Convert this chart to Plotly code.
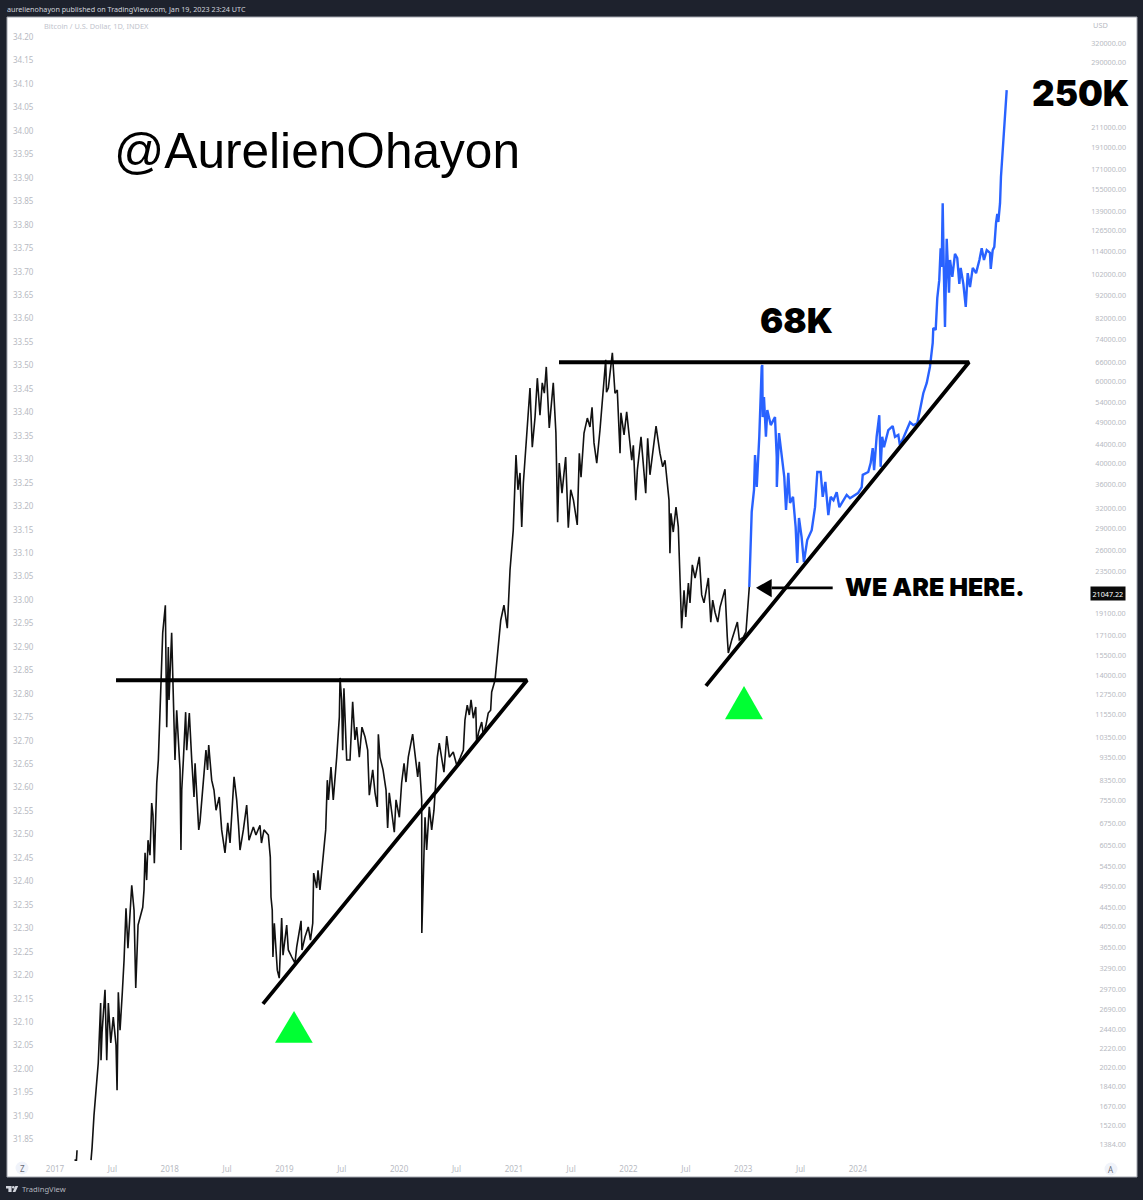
"""Bitcoin log chart with two ascending triangles, redrawn from a TradingView snapshot."""
import math

import plotly.graph_objects as go

# first few daily bars, separated from the rest by a gap in the feed
start_t = [2017.170, 2017.187, 2017.192]
start_v = [31.806, 31.806, 31.827]

# printed price, read against the left (log) scale, t in decimal years
black_t = [
    2017.314, 2017.323, 2017.340, 2017.357, 2017.366, 2017.377, 2017.398, 2017.401, 2017.410, 2017.436,
    2017.451, 2017.465, 2017.486, 2017.508, 2017.532, 2017.541, 2017.552, 2017.567, 2017.587, 2017.602,
    2017.619, 2017.636, 2017.669, 2017.689, 2017.704, 2017.724, 2017.765, 2017.776, 2017.785, 2017.799,
    2017.811, 2017.828, 2017.843, 2017.854, 2017.866, 2017.887, 2017.901, 2017.915, 2017.939, 2017.962,
    2017.974, 2017.988, 2017.994, 2018.017, 2018.031, 2018.046, 2018.061, 2018.072, 2018.090, 2018.098,
    2018.105, 2018.119, 2018.139, 2018.148, 2018.171, 2018.192, 2018.212, 2018.221, 2018.241, 2018.253,
    2018.264, 2018.293, 2018.316, 2018.330, 2018.340, 2018.366, 2018.386, 2018.404, 2018.432, 2018.453,
    2018.482, 2018.506, 2018.526, 2018.561, 2018.584, 2018.600, 2018.613, 2018.642, 2018.671, 2018.691,
    2018.729, 2018.752, 2018.787, 2018.800, 2018.822, 2018.860, 2018.877, 2018.883, 2018.894, 2018.900,
    2018.912, 2018.938, 2018.955, 2018.976, 2018.988, 2019.020, 2019.034, 2019.064, 2019.092, 2019.107,
    2019.145, 2019.153, 2019.180, 2019.208, 2019.227, 2019.247, 2019.255, 2019.281, 2019.293, 2019.310,
    2019.339, 2019.360, 2019.374, 2019.384, 2019.406, 2019.426, 2019.456, 2019.479, 2019.485, 2019.499,
    2019.508, 2019.519, 2019.543, 2019.572, 2019.595, 2019.615, 2019.630, 2019.653, 2019.676, 2019.703,
    2019.726, 2019.740, 2019.770, 2019.790, 2019.810, 2019.819, 2019.833, 2019.860, 2019.886, 2019.900,
    2019.914, 2019.935, 2019.958, 2019.973, 2020.002, 2020.022, 2020.043, 2020.060, 2020.080, 2020.118,
    2020.138, 2020.162, 2020.176, 2020.197, 2020.198, 2020.206, 2020.217, 2020.226, 2020.240, 2020.263,
    2020.284, 2020.304, 2020.322, 2020.333, 2020.350, 2020.391, 2020.415, 2020.438, 2020.472, 2020.502,
    2020.531, 2020.560, 2020.574, 2020.594, 2020.612, 2020.627, 2020.647, 2020.668, 2020.676, 2020.694,
    2020.720, 2020.734, 2020.757, 2020.777, 2020.798, 2020.807, 2020.836, 2020.851, 2020.862, 2020.886,
    2020.914, 2020.943, 2020.967, 2020.995, 2021.019, 2021.036, 2021.054, 2021.069, 2021.083, 2021.103,
    2021.121, 2021.141, 2021.161, 2021.185, 2021.205, 2021.228, 2021.248, 2021.266, 2021.283, 2021.309,
    2021.344, 2021.367, 2021.382, 2021.396, 2021.420, 2021.452, 2021.475, 2021.496, 2021.520, 2021.553,
    2021.571, 2021.586, 2021.612, 2021.641, 2021.664, 2021.682, 2021.699, 2021.723, 2021.751, 2021.771,
    2021.801, 2021.808, 2021.824, 2021.859, 2021.882, 2021.902, 2021.926, 2021.934, 2021.961, 2021.984,
    2022.004, 2022.028, 2022.042, 2022.063, 2022.077, 2022.109, 2022.150, 2022.167, 2022.187, 2022.211,
    2022.240, 2022.274, 2022.298, 2022.318, 2022.333, 2022.353, 2022.361, 2022.370, 2022.390, 2022.414,
    2022.434, 2022.449, 2022.463, 2022.484, 2022.499, 2022.522, 2022.536, 2022.556, 2022.580, 2022.617,
    2022.638, 2022.658, 2022.696, 2022.717, 2022.734, 2022.754, 2022.778, 2022.798, 2022.827, 2022.841,
    2022.861, 2022.870, 2022.900, 2022.920, 2022.949, 2022.966, 2023.001, 2023.024, 2023.044, 2023.053,
]
black_v = [
    31.806, 31.832, 31.902, 31.955, 31.977, 32.013, 32.141, 32.019, 32.077, 32.169,
    32.019, 32.141, 32.056, 32.111, 32.051, 31.955, 32.164, 32.083, 32.164, 32.232,
    32.343, 32.258, 32.392, 32.339, 32.173, 32.307, 32.345, 32.382, 32.461, 32.403,
    32.488, 32.456, 32.567, 32.542, 32.439, 32.610, 32.659, 32.751, 32.930, 32.989,
    32.729, 32.900, 32.787, 32.930, 32.808, 32.659, 32.765, 32.716, 32.638, 32.467,
    32.595, 32.659, 32.761, 32.680, 32.759, 32.659, 32.580, 32.652, 32.559, 32.510,
    32.527, 32.616, 32.680, 32.638, 32.691, 32.616, 32.595, 32.552, 32.580, 32.510,
    32.461, 32.525, 32.482, 32.623, 32.574, 32.520, 32.467, 32.510, 32.563, 32.488,
    32.516, 32.499, 32.520, 32.482, 32.510, 32.499, 32.452, 32.367, 32.339, 32.239,
    32.311, 32.211, 32.194, 32.322, 32.243, 32.307, 32.254, 32.239, 32.226, 32.260,
    32.316, 32.254, 32.282, 32.303, 32.275, 32.311, 32.418, 32.386, 32.424, 32.382,
    32.461, 32.510, 32.616, 32.574, 32.644, 32.574, 32.665, 32.751, 32.834, 32.787,
    32.680, 32.812, 32.659, 32.659, 32.783, 32.702, 32.729, 32.665, 32.729, 32.708,
    32.680, 32.584, 32.638, 32.589, 32.559, 32.714, 32.665, 32.638, 32.595, 32.514,
    32.589, 32.552, 32.505, 32.574, 32.537, 32.610, 32.652, 32.612, 32.665, 32.714,
    32.674, 32.623, 32.655, 32.574, 32.290, 32.397, 32.461, 32.537, 32.467, 32.559,
    32.510, 32.552, 32.623, 32.665, 32.695, 32.633, 32.710, 32.665, 32.676, 32.648,
    32.663, 32.680, 32.744, 32.776, 32.755, 32.787, 32.748, 32.772, 32.695, 32.719,
    32.740, 32.712, 32.733, 32.759, 32.765, 32.804, 32.829, 32.866, 32.904, 32.957,
    32.989, 32.940, 33.064, 33.149, 33.309, 33.235, 33.271, 33.156, 33.249, 33.320,
    33.369, 33.452, 33.326, 33.390, 33.473, 33.394, 33.463, 33.441, 33.497, 33.367,
    33.463, 33.356, 33.166, 33.292, 33.228, 33.305, 33.154, 33.235, 33.213, 33.160,
    33.313, 33.262, 33.356, 33.388, 33.369, 33.411, 33.335, 33.292, 33.362, 33.426,
    33.512, 33.443, 33.452, 33.527, 33.441, 33.448, 33.313, 33.399, 33.352, 33.401,
    33.352, 33.298, 33.330, 33.213, 33.277, 33.348, 33.228, 33.345, 33.267, 33.313,
    33.371, 33.313, 33.284, 33.298, 33.267, 33.213, 33.100, 33.185, 33.145, 33.198,
    33.156, 33.064, 32.940, 33.021, 32.964, 33.036, 32.994, 33.075, 33.047, 33.092,
    33.011, 32.994, 33.047, 32.953, 33.000, 32.974, 32.953, 32.985, 33.015, 33.023,
    32.921, 32.887, 32.915, 32.930, 32.953, 32.915, 32.921, 32.932, 33.006, 33.028,
]

# the author's projected path
blue_t = [
    2023.053, 2023.068, 2023.074, 2023.094, 2023.103, 2023.118, 2023.140, 2023.161, 2023.166, 2023.170,
    2023.181, 2023.198, 2023.210, 2023.240, 2023.277, 2023.292, 2023.293, 2023.312, 2023.335, 2023.358,
    2023.373, 2023.393, 2023.408, 2023.434, 2023.457, 2023.471, 2023.486, 2023.509, 2023.529, 2023.558,
    2023.597, 2023.626, 2023.646, 2023.675, 2023.693, 2023.716, 2023.742, 2023.762, 2023.787, 2023.815,
    2023.838, 2023.873, 2023.902, 2023.931, 2023.975, 2024.001, 2024.033, 2024.042, 2024.090, 2024.111,
    2024.129, 2024.141, 2024.163, 2024.186, 2024.198, 2024.212, 2024.227, 2024.265, 2024.303, 2024.323,
    2024.352, 2024.366, 2024.395, 2024.425, 2024.454, 2024.483, 2024.517, 2024.541, 2024.570, 2024.600,
    2024.628, 2024.652, 2024.657, 2024.678, 2024.692, 2024.709, 2024.721, 2024.730, 2024.739, 2024.748,
    2024.759, 2024.774, 2024.785, 2024.794, 2024.803, 2024.823, 2024.846, 2024.866, 2024.884, 2024.896,
    2024.919, 2024.940, 2024.957, 2024.977, 2025.001, 2025.030, 2025.059, 2025.079, 2025.099, 2025.123,
    2025.151, 2025.158, 2025.175, 2025.189, 2025.204, 2025.215, 2025.224, 2025.239, 2025.247, 2025.262,
    2025.273, 2025.285, 2025.297,
]
blue_v = [
    33.028, 33.143, 33.188, 33.235, 33.309, 33.241, 33.348, 33.497, 33.501, 33.390,
    33.433, 33.348, 33.405, 33.373, 33.390, 33.305, 33.241, 33.356, 33.313, 33.262,
    33.192, 33.271, 33.207, 33.220, 33.156, 33.079, 33.175, 33.134, 33.081, 33.128,
    33.149, 33.198, 33.273, 33.273, 33.220, 33.252, 33.181, 33.220, 33.213, 33.230,
    33.198, 33.213, 33.224, 33.217, 33.224, 33.228, 33.241, 33.267, 33.273, 33.292,
    33.324, 33.277, 33.348, 33.394, 33.284, 33.348, 33.326, 33.362, 33.371, 33.348,
    33.352, 33.330, 33.345, 33.362, 33.379, 33.373, 33.377, 33.405, 33.441, 33.463,
    33.497, 33.548, 33.580, 33.576, 33.644, 33.682, 33.750, 33.710, 33.846, 33.714,
    33.582, 33.770, 33.693, 33.655, 33.725, 33.689, 33.738, 33.729, 33.674, 33.708,
    33.674, 33.625, 33.697, 33.667, 33.708, 33.697, 33.725, 33.750, 33.725, 33.746,
    33.740, 33.706, 33.746, 33.753, 33.804, 33.823, 33.806, 33.846, 33.902, 33.959,
    34.013, 34.038, 34.087,
]

# hand-drawn triangles: top, then rising trend line
left_tri_t = [2017.532, 2021.115, 2018.813]
left_tri_v = [32.829, 32.829, 32.139]
right_tri_t = [2021.394, 2024.968, 2022.675]
right_tri_v = [33.507, 33.507, 32.817]

# green markers under each triangle
mark_left_t = [2018.918, 2019.084, 2019.247, 2018.918]
mark_left_v = [32.056, 32.124, 32.056, 32.056]
mark_right_t = [2022.841, 2023.007, 2023.172, 2022.841]
mark_right_v = [32.746, 32.817, 32.746, 32.746]

# "we are here" arrow
arrow_shaft_t = [2023.248, 2023.780]
arrow_shaft_v = [33.026, 33.026]
arrow_head_t = [2023.111, 2023.248, 2023.248, 2023.111]
arrow_head_v = [33.026, 33.045, 33.006, 33.026]

last_t = [2026.40]
last_price = [21047.22]

year_ticks = [2017, 2017.5, 2018, 2018.5, 2019, 2019.5, 2020, 2020.5, 2021, 2021.5, 2022, 2022.5, 2023, 2023.5, 2024]
year_labels = ["2017", "Jul", "2018", "Jul", "2019", "Jul", "2020", "Jul", "2021", "Jul", "2022", "Jul", "2023", "Jul", "2024"]
left_ticks = [
    34.20, 34.15, 34.10, 34.05, 34.00, 33.95, 33.90, 33.85, 33.80, 33.75, 33.70, 33.65, 33.60, 33.55, 33.50, 33.45,
    33.40, 33.35, 33.30, 33.25, 33.20, 33.15, 33.10, 33.05, 33.00, 32.95, 32.90, 32.85, 32.80, 32.75, 32.70, 32.65,
    32.60, 32.55, 32.50, 32.45, 32.40, 32.35, 32.30, 32.25, 32.20, 32.15, 32.10, 32.05, 32.00, 31.95, 31.90, 31.85,
]
price_ticks = [
    320000, 290000, 211000, 191000, 171000, 155000, 139000, 126500, 114000, 102000, 92000, 82000, 74000, 66000,
    60000, 54000, 49000, 44000, 40000, 36000, 32000, 29000, 26000, 23500, 17100, 15500, 14000, 12750,
    11550, 10350, 9350, 8350, 7550, 6750, 6050, 5450, 4950, 4450, 4050, 3650, 3290, 2970, 2690, 2440, 2220,
    2020, 1840, 1670, 1520, 1384,
]
# this one does not survive as a tick label on the inside of the axis, so it goes in as a note
price_tick_extra = 19100

WIDTH, HEIGHT = 1143, 1200
M_L, M_R, M_T, M_B = 7, 6, 17, 23
DARK = "#1e222d"
AXIS_TEXT = "#b7bac2"
BLUE = "#2962ff"
GREEN = "#00ff33"
TICK_FONT = "Noto Sans"
HEAVY_FONT = "Inter"


def _px(x, y):
    """Window pixels to paper fractions, for the furniture around the chart."""
    return (x - M_L) / (WIDTH - M_L - M_R), (HEIGHT - M_B - y) / (HEIGHT - M_T - M_B)


def _note(fig, text, x, y, size, color, family=TICK_FONT, weight="normal", anchor="left"):
    px, py = _px(x, y)
    fig.add_annotation(
        x=px, y=py, xref="paper", yref="paper", text=text, showarrow=False,
        xanchor=anchor, yanchor="middle", borderpad=0,
        font=dict(family=family, size=size, color=color, weight=weight),
    )


fig = go.Figure()

fig.add_trace(go.Scatter(x=start_t, y=start_v, mode="lines", line=dict(color="#111111", width=1.6)))
fig.add_trace(go.Scatter(x=black_t, y=black_v, mode="lines", line=dict(color="#111111", width=1.6)))
fig.add_trace(go.Scatter(x=blue_t, y=blue_v, mode="lines", line=dict(color=BLUE, width=2.4)))

for tx, ty in ((left_tri_t, left_tri_v), (right_tri_t, right_tri_v)):
    fig.add_trace(go.Scatter(x=tx, y=ty, mode="lines", line=dict(color="black", width=3.8)))
for tx, ty in ((mark_left_t, mark_left_v), (mark_right_t, mark_right_v)):
    fig.add_trace(go.Scatter(x=tx, y=ty, mode="lines", fill="toself", fillcolor=GREEN, line=dict(color=GREEN, width=0)))

fig.add_trace(go.Scatter(x=arrow_shaft_t, y=arrow_shaft_v, mode="lines", line=dict(color="black", width=2.8)))
fig.add_trace(go.Scatter(x=arrow_head_t, y=arrow_head_v, mode="lines", fill="toself", fillcolor="black", line=dict(color="black", width=0)))

# last price lives on the USD scale, this also keeps the right axis alive
fig.add_trace(go.Scatter(x=last_t, y=last_price, yaxis="y2", mode="markers", marker=dict(size=1, opacity=0)))

fig.update_layout(
    width=WIDTH,
    height=HEIGHT,
    margin=dict(l=M_L, r=M_R, t=M_T, b=M_B, pad=0),
    paper_bgcolor=DARK,
    plot_bgcolor="white",
    showlegend=False,
    hovermode=False,
    xaxis=dict(
        range=[2016.5815, 2026.433], tickvals=year_ticks, ticktext=year_labels, showgrid=False, zeroline=False,
        ticks="", ticklabelposition="inside", ticklabelstandoff=0,
        tickfont=dict(family=TICK_FONT, size=8, color=AXIS_TEXT),
    ),
    yaxis=dict(
        range=[31.770, 34.243], tickvals=left_ticks, tickformat=".2f", showgrid=False, zeroline=False,
        ticks="", ticklabelposition="inside", ticklabelstandoff=3,
        tickfont=dict(family=TICK_FONT, size=8, color=AXIS_TEXT),
    ),
    yaxis2=dict(
        type="log", overlaying="y", side="right", range=[3.07029, 5.56097],
        tickvals=price_ticks, ticktext=[f"{p:.2f}" for p in price_ticks], showgrid=False, zeroline=False,
        ticks="", ticklabelposition="inside", ticklabelstandoff=8,
        tickfont=dict(family=TICK_FONT, size=7.2, color=AXIS_TEXT),
    ),
)

# panel edge
x0, y0 = _px(7, 17)
x1, y1 = _px(1137, 1177)
fig.add_shape(type="rect", xref="paper", yref="paper", x0=x0, y0=y0, x1=x1, y1=y1, line=dict(color="#a3a6af", width=1))

# Z and A buttons
for cx, cy, letter in ((22, 1168, "Z"), (1111, 1169, "A")):
    x0, y0 = _px(cx - 6.5, cy - 6.5)
    x1, y1 = _px(cx + 6.5, cy + 6.5)
    fig.add_shape(type="circle", xref="paper", yref="paper", x0=x0, y0=y0, x1=x1, y1=y1, fillcolor="#f0f3fa", line_width=0)
    _note(fig, letter, cx, cy, 8, "#6a6d78", anchor="center")

# TradingView logo, bottom left
logo_pts = [(6, 1186), (11.6, 1186), (11.6, 1192), (8.4, 1192), (8.4, 1188.6), (6, 1188.6)]
slash_pts = [(15.4, 1186), (18.2, 1186), (15.4, 1192), (12.6, 1192)]
for pts in (logo_pts, slash_pts):
    path = "M " + " L ".join("{:.5f},{:.5f}".format(*_px(*p)) for p in pts) + " Z"
    fig.add_shape(type="path", xref="paper", yref="paper", path=path, fillcolor="#d1d4dc", line_width=0)
x0, y0 = _px(12, 1186)
x1, y1 = _px(14.6, 1188.6)
fig.add_shape(type="circle", xref="paper", yref="paper", x0=x0, y0=y0, x1=x1, y1=y1, fillcolor="#d1d4dc", line_width=0)

_note(fig, "aurelienohayon published on TradingView.com, Jan 19, 2023 23:24 UTC", 6, 9, 7.2, "#d1d4dc")
_note(fig, "Bitcoin / U.S. Dollar, 1D, INDEX", 43, 26, 7.4, "#c1c4cd")
_note(fig, "USD", 1092, 25, 7.4, AXIS_TEXT)
_note(fig, "TradingView", 21, 1189, 7.6, "#b2b5be")

_note(fig, "@AurelienOhayon", 113, 151, 49.6, "black", family="Liberation Sans")
_note(fig, "68K", 759, 320, 34.5, "black", family=HEAVY_FONT, weight=900)
_note(fig, "250K", 1031, 93, 35, "black", family=HEAVY_FONT, weight=900)
_note(fig, "WE ARE HERE.", 844, 587, 25, "black", family=HEAVY_FONT, weight=900)

# annotations on a log axis take log10 of the value
fig.add_annotation(
    x=1, xref="paper", xanchor="right", xshift=-10, y=math.log10(price_tick_extra), yref="y2", yanchor="middle", showarrow=False,
    text=f"{price_tick_extra:.2f}", borderpad=0,
    font=dict(family=TICK_FONT, size=7.2, color=AXIS_TEXT),
)
fig.add_annotation(
    x=1, xref="paper", xanchor="right", xshift=-11, y=math.log10(last_price[0]), yref="y2", yanchor="middle", showarrow=False,
    text=f"{last_price[0]:.2f}", bgcolor="#0a0a0a", borderpad=1.5,
    font=dict(family=TICK_FONT, size=7.2, color="white"),
)

fig.write_html("out.html", config={"displayModeBar": False}, post_script="document.body.style.margin = '0';")
